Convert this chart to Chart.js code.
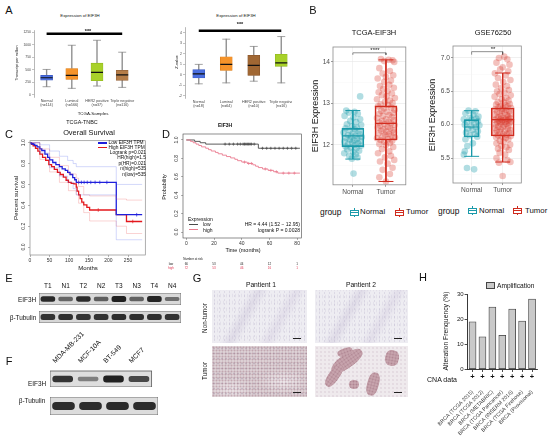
<!DOCTYPE html>
<html><head><meta charset="utf-8">
<script src="https://cdn.jsdelivr.net/npm/chart.js@4/dist/chart.umd.min.js"></script>
<style>
html,body{margin:0;padding:0;background:#fff;}
#fig{position:relative;width:550px;height:440px;overflow:hidden;font-family:"Liberation Sans",Arial,Helvetica,sans-serif;color:#111;}
.t{position:absolute;white-space:nowrap;line-height:1;}
</style></head><body><div id="fig"></div>
<script>
// ================= DATA =================
// Panel A (UALCAN box plots)
const A_groups = ['Normal','Luminal','HER2 positive','Triple negative'];
const A1_n   = ['(n=114)','(n=566)','(n=37)','(n=116)'];
const A1_lo  = [164,132,178,151];
const A1_q1  = [296,309,283,290];
const A1_med = [342,388,447,401];
const A1_q3  = [388,526,632,487];
const A1_hi  = [507,987,1086,849];
const A1_sig = [1215,null,null,1215];
const A1_yTicks = [0,250,500,750,1000,1250];
const A2_n   = ['(n=18)','(n=64)','(n=10)','(n=16)'];
const A2_lo  = [-0.85,-0.76,-0.6,-0.76];
const A2_q1  = [-0.3,0.42,-0.06,0.81];
const A2_med = [0.09,1.0,0.9,1.14];
const A2_q3  = [0.5,1.72,1.87,1.96];
const A2_hi  = [1.0,3.4,2.71,3.65];
const A2_sig = [4.2,null,null,4.2];
const A2_yTicks = [-2,-1,0,1,2,3,4];

// Panel B (jittered points: [offset from group, value]; box stats [lo,q1,med,q3,hi])
const B_cats = ['Normal','Tumor'];
const B1_boxN = [11.66,11.96,12.22,12.40,12.83];
const B1_boxT = [11.12,12.12,12.52,12.94,14.05];
const B1_bracket = [14.17,14.22];
const B1_yMajor = [12,13,14];
const B1_yMinor = [11.5,12.5,13.5];
const B1_ptsN = [[-0.20,12.83],[0.05,12.80],[-0.12,12.78],[0.15,12.75],[-0.25,12.70],[0.02,12.66],[0.22,12.62],[-0.08,12.58],[0.10,12.55],[-0.18,12.50],[0.25,12.48],[-0.02,12.45],[0.12,12.42],[-0.22,12.40],[0.06,12.38],[-0.10,12.35],[0.18,12.33],[-0.28,12.30],[0.00,12.28],[0.20,12.26],[-0.15,12.24],[0.08,12.22],[-0.05,12.20],[0.27,12.19],[-0.20,12.17],[0.13,12.15],[-0.09,12.13],[0.03,12.11],[0.22,12.10],[-0.25,12.08],[-0.02,12.06],[0.16,12.04],[-0.14,12.02],[0.07,12.00],[0.25,11.98],[-0.22,11.96],[-0.06,11.94],[0.11,11.92],[-0.17,11.89],[0.19,11.86],[0.01,11.83],[-0.26,11.80],[0.09,11.77],[-0.11,11.74],[0.14,11.70],[-0.03,11.67],[0.22,13.17],[0.02,11.31]];
const B1_ptsT = [[-0.15,14.07],[0.08,14.05],[0.20,14.04],[-0.05,14.02],[0.25,14.00],[-0.20,13.85],[0.12,13.78],[-0.10,13.72],[0.22,13.68],[0.00,13.64],[-0.25,13.60],[0.15,13.55],[-0.05,13.52],[0.10,13.45],[-0.18,13.42],[0.24,13.38],[-0.08,13.35],[0.05,13.30],[-0.22,13.27],[0.18,13.24],[-0.12,13.20],[0.02,13.17],[0.27,13.13],[-0.27,13.10],[0.12,13.07],[-0.03,13.04],[0.20,13.01],[-0.16,12.98],[0.06,12.96],[-0.24,12.93],[0.16,12.90],[-0.06,12.88],[0.26,12.85],[-0.14,12.82],[0.03,12.80],[0.22,12.77],[-0.20,12.75],[0.10,12.72],[-0.09,12.70],[0.18,12.67],[-0.27,12.65],[0.00,12.62],[0.24,12.60],[-0.12,12.58],[0.08,12.56],[-0.20,12.54],[0.15,12.52],[-0.04,12.50],[0.26,12.48],[-0.17,12.46],[0.05,12.44],[-0.25,12.42],[0.13,12.40],[-0.07,12.38],[0.21,12.36],[-0.14,12.34],[0.02,12.32],[0.24,12.30],[-0.22,12.28],[0.09,12.26],[-0.02,12.24],[0.17,12.22],[-0.10,12.20],[0.27,12.18],[-0.27,12.16],[0.06,12.14],[-0.16,12.12],[0.19,12.10],[-0.05,12.08],[0.12,12.05],[-0.20,12.02],[0.00,12.00],[0.22,11.95],[-0.12,11.90],[0.10,11.85],[-0.24,11.80],[0.15,11.74],[-0.03,11.70],[0.25,11.64],[-0.18,11.60],[0.05,11.55],[0.20,11.45],[-0.10,11.40],[0.12,11.30],[-0.20,11.22],[0.00,11.12]];
const B2_boxN = [5.525,5.815,5.965,6.075,6.21];
const B2_boxT = [5.44,5.83,6.075,6.25,6.775];
const B2_bracket = [7.05,7.095];
const B2_yMajor = [5.5,6.0,6.5,7.0];
const B2_yMinor = [5.25,5.75,6.25,6.75];
const B2_ptsN = [[-0.10,6.21],[0.12,6.20],[-0.20,6.17],[0.05,6.15],[0.22,6.12],[-0.05,6.10],[0.15,6.09],[-0.25,6.08],[0.00,6.07],[0.20,6.05],[-0.15,6.04],[0.08,6.02],[-0.22,6.00],[0.25,5.99],[-0.02,5.98],[0.14,5.96],[-0.12,5.94],[0.03,5.92],[0.20,5.90],[-0.18,5.88],[0.10,5.86],[-0.06,5.84],[0.18,5.82],[-0.20,5.78],[0.04,5.72],[-0.14,5.68],[-0.22,5.60],[-0.25,5.55],[-0.15,5.35],[0.08,5.33]];
const B2_ptsT = [[0.05,7.02],[-0.12,7.00],[0.15,6.98],[-0.20,6.93],[0.22,6.90],[0.00,6.86],[-0.08,6.83],[0.18,6.80],[-0.25,6.77],[0.10,6.74],[-0.15,6.70],[0.25,6.67],[0.02,6.64],[-0.22,6.60],[0.14,6.58],[-0.05,6.55],[0.20,6.52],[-0.18,6.50],[0.06,6.48],[-0.10,6.46],[0.26,6.44],[-0.26,6.42],[0.12,6.40],[-0.03,6.38],[0.19,6.36],[-0.16,6.34],[0.04,6.33],[0.23,6.31],[-0.21,6.30],[0.09,6.29],[-0.07,6.28],[0.16,6.27],[-0.13,6.26],[0.27,6.25],[0.00,6.24],[-0.24,6.23],[0.11,6.22],[-0.02,6.21],[0.21,6.20],[-0.18,6.19],[0.06,6.18],[-0.09,6.17],[0.25,6.16],[-0.27,6.15],[0.14,6.14],[-0.05,6.13],[0.18,6.12],[-0.14,6.11],[0.03,6.10],[0.24,6.095],[-0.20,6.09],[0.10,6.085],[-0.06,6.08],[0.20,6.075],[-0.25,6.07],[0.00,6.065],[0.15,6.06],[-0.12,6.055],[0.27,6.05],[-0.03,6.045],[0.08,6.04],[-0.17,6.035],[0.22,6.03],[-0.08,6.02],[0.12,6.01],[-0.22,6.00],[0.04,5.99],[0.19,5.98],[-0.14,5.97],[0.00,5.96],[-0.26,5.95],[0.17,5.94],[-0.06,5.93],[0.25,5.92],[-0.19,5.91],[0.07,5.90],[-0.10,5.89],[0.21,5.88],[-0.24,5.87],[0.02,5.86],[0.13,5.85],[-0.15,5.84],[0.26,5.83],[-0.02,5.82],[-0.21,5.81],[0.10,5.80],[0.18,5.78],[-0.09,5.76],[0.03,5.74],[-0.20,5.72],[0.24,5.70],[-0.04,5.68],[0.12,5.66],[-0.15,5.64],[0.20,5.62],[-0.10,5.58],[0.08,5.55],[-0.20,5.50],[0.15,5.47],[0.25,5.44],[-0.12,5.43],[0.00,5.23]];

// Panel C (GEPIA KM, months vs survival)
const C_xTicks = [0,50,100,150,200,250];
const KM_yTicks = [0,0.2,0.4,0.6,0.8,1.0];
const C_low  = [[0,1],[3,0.99],[8,0.985],[12,0.975],[18,0.96],[25,0.94],[30,0.925],[38,0.89],[45,0.86],[50,0.835],[58,0.81],[66,0.79],[75,0.77],[82,0.75],[90,0.735],[96,0.715],[102,0.695],[109,0.665],[114,0.645],[118,0.62],[220,0.31],[286,0.31]];
const C_high = [[0,1],[4,0.985],[8,0.97],[14,0.945],[20,0.92],[25,0.89],[32,0.86],[40,0.83],[48,0.79],[55,0.77],[62,0.745],[70,0.715],[77,0.695],[85,0.67],[92,0.64],[98,0.62],[105,0.61],[112,0.605],[118,0.575],[120,0.535],[124,0.5],[128,0.465],[132,0.43],[137,0.405],[145,0.38],[152,0.355],[220,0.31],[246,0.245],[286,0.245]];
const C_lowUp  = [[0,1],[25,0.98],[50,0.92],[75,0.87],[96,0.83],[110,0.8],[118,0.77],[220,0.6],[286,0.6]];
const C_lowDn  = [[0,1],[25,0.9],[50,0.76],[75,0.68],[96,0.62],[110,0.56],[118,0.5],[220,0.07],[286,0.07]];
const C_highUp = [[0,1],[25,0.94],[50,0.86],[75,0.78],[98,0.7],[118,0.66],[124,0.58],[137,0.5],[152,0.49],[220,0.46],[246,0.45],[286,0.45]];
const C_highDn = [[0,1],[25,0.84],[50,0.72],[75,0.62],[98,0.54],[118,0.5],[124,0.42],[137,0.33],[152,0.25],[220,0.2],[246,0.13],[286,0.13]];
const C_lowCens  = [[124,0.62],[131,0.62],[138,0.62],[146,0.62],[155,0.62],[166,0.62],[178,0.62],[196,0.62],[272,0.31]];
const C_highCens = [[174,0.355],[262,0.245]];

// Panel D (KM, months vs probability)
const D_xTicks = [0,20,40,60,80];
const D_low  = [[0,1],[6,0.985],[10,0.97],[14,0.955],[52,0.91],[82,0.91]];
const D_high = [[0,1],[3,0.985],[5,0.97],[7,0.955],[9,0.94],[11,0.925],[14,0.91],[16,0.895],[18,0.88],[21,0.865],[23,0.85],[26,0.835],[29,0.82],[32,0.805],[35,0.79],[37,0.775],[40,0.76],[44,0.745],[48,0.73],[50,0.715],[52,0.7],[55,0.685],[59,0.67],[63,0.655],[66,0.64],[82,0.64]];
const D_lowCens  = [[28,0.955],[31,0.955],[34,0.955],[37,0.955],[39,0.955],[41,0.955],[42,0.955],[43,0.955],[44,0.955],[45,0.955],[46,0.955],[47,0.955],[49,0.955],[55,0.91],[58,0.91],[61,0.91],[64,0.91],[67,0.91],[70,0.91],[73,0.91],[76,0.91],[79,0.91]];
const D_highCens = [[42,0.76],[45,0.745],[47,0.745],[57,0.685],[61,0.67],[65,0.655],[70,0.64],[74,0.64],[78,0.64]];
const D_riskLow  = [66,53,44,12,1];
const D_riskHigh = [72,53,46,16,1];

// Panels E / F (band intensities, 0..1)
const E_lanes = ['T1','N1','T2','N2','T3','N3','T4','N4'];
const E_eif3h = [0.92,0.45,0.9,0.5,1.0,0.48,0.95,0.38];
const E_tub   = [0.85,0.88,0.85,0.85,0.9,0.88,0.88,0.85];
const F_lines = ['MDA-MB-231','MCF-10A','BT-549','MCF7'];
const F_eif3h = [0.85,0.28,1.0,0.7];
const F_tub   = [0.9,0.9,0.92,0.9];

// Panel H (cBioPortal amplification frequency, %)
const H_studies = ['BRCA (TCGA 2015)','BRCA (TCGA 2012)','BRCA (METABRIC)','BRCA (TCGA Pancancer)','BRCA (INSERM 2016)','BRCA (TCGA Firehose)','BRCA (Provisional)'];
const H_amp = [19,13,25,13.6,24.2,19.3,28.2];
const H_cna = ['+','+','+','+','+','+','+'];
const H_yTicks = [0,10,20,30];

// ================= HELPERS =================
const fig = document.getElementById('fig');
Chart.defaults.font.family = '"Liberation Sans", Arial, Helvetica, sans-serif';
Chart.defaults.color = '#333';
Chart.defaults.animation = false;
Chart.defaults.responsive = false;
Chart.defaults.maintainAspectRatio = false;
Chart.defaults.events = [];
Chart.defaults.plugins.legend.display = false;
Chart.defaults.plugins.tooltip.enabled = false;
Chart.register({
  id:'frame',
  beforeDatasetsDraw(ch,a,o){ if(o && o.fill){ const r=ch.chartArea,g=ch.ctx; g.save(); g.fillStyle=o.fill; g.fillRect(r.left,r.top,r.right-r.left,r.bottom-r.top); g.restore(); } },
  afterDatasetsDraw(ch,a,o){ if(o && o.color){ const r=ch.chartArea,g=ch.ctx; g.save(); g.strokeStyle=o.color; g.lineWidth=o.width||1; g.strokeRect(r.left,r.top,r.right-r.left,r.bottom-r.top); g.restore(); } }
});
const setTicks = arr => s => { s.ticks = arr.map(v => ({value:v})); };
function mk(parent,x,y,w,h,cfg){
  const c=document.createElement('canvas'); c.width=w; c.height=h;
  c.style.cssText=`position:absolute;left:${x}px;top:${y}px;width:${w}px;height:${h}px;`;
  parent.appendChild(c); return new Chart(c.getContext('2d'),cfg);
}
function txt(s,x,y,size,o={}){
  const d=document.createElement('div'); d.className='t'; d.textContent=s;
  d.style.fontSize=size+'px'; d.style.left=x+'px'; d.style.top=y+'px';
  if(o.color) d.style.color=o.color; if(o.bold) d.style.fontWeight='bold';
  const tx=o.a==='l'?'0':o.a==='r'?'-100%':'-50%';
  d.style.transform=`translate(${tx},-50%)`+(o.rot?` rotate(${o.rot}deg)`:'');
  fig.appendChild(d); return d;
}
function box(parent,x,y,w,h,css){ const d=document.createElement('div'); d.style.cssText=`position:absolute;left:${x}px;top:${y}px;width:${w}px;height:${h}px;`+css; parent.appendChild(d); return d; }
function hline(x,y,w,c,lw){ box(fig,x,y-(lw||1)/2,w,lw||1,`background:${c};`); }

// ================= PANEL A =================
function uaChart(parent,x,y,w,h,o){
  return mk(parent,x,y,w,h,{
    type:'bar',
    data:{labels:A_groups.map((g,i)=>[g,o.n[i]]), datasets:[
      {type:'line',data:o.sig,spanGaps:true,borderColor:'#000',borderWidth:2.4,pointRadius:0,order:0},
      {type:'line',data:o.med,showLine:false,pointStyle:'line',pointRadius:6,pointBorderColor:'#111',pointBorderWidth:1.2,order:1},
      {type:'bar',data:o.q1.map((v,i)=>[v,o.q3[i]]),backgroundColor:o.colors,borderColor:o.edges,borderWidth:0.6,borderSkipped:false,barThickness:12,grouped:false,order:2},
      {type:'bar',data:o.q3.map((v,i)=>[v,o.hi[i]]),backgroundColor:'#8d8d8d',barThickness:0.7,grouped:false,order:3},
      {type:'bar',data:o.lo.map((v,i)=>[v,o.q1[i]]),backgroundColor:'#8d8d8d',barThickness:0.7,grouped:false,order:3},
      {type:'line',data:o.hi,showLine:false,pointStyle:'line',pointRadius:4,pointBorderColor:'#8d8d8d',pointBorderWidth:0.8,order:3},
      {type:'line',data:o.lo,showLine:false,pointStyle:'line',pointRadius:4,pointBorderColor:'#8d8d8d',pointBorderWidth:0.8,order:3}
    ]},
    options:{
      layout:{padding:{top:o.padTop,right:o.padRight,left:0,bottom:0}},
      scales:{
        x:{grid:{display:false,drawTicks:false},border:{display:false},ticks:{font:{size:3.7},color:'#444',padding:1.5,autoSkip:false,maxRotation:0,minRotation:0},afterFit:s=>{s.height=o.xH;}},
        y:{min:o.yMin,max:o.yMax,beginAtZero:false,afterBuildTicks:setTicks(o.yTicks),grid:{display:true,drawOnChartArea:false,tickLength:2,color:'#888',lineWidth:0.5},border:{display:true,color:'#888',width:0.6},ticks:{font:{size:3.4},color:'#444',padding:1,callback:v=>String(v)},afterFit:s=>{s.width=o.yW;}}
      }
    }
  });
}
uaChart(fig,8,20,134,95,{n:A1_n,lo:A1_lo,q1:A1_q1,med:A1_med,q3:A1_q3,hi:A1_hi,sig:A1_sig,yTicks:A1_yTicks,
  colors:['#4a6ee0','#f5932a','#a8d12a','#b57d48'],edges:['#3a58c0','#d97c18','#8fb51c','#97643a'],
  yMin:-40,yMax:1290,yW:26,xH:18,padTop:10,padRight:6});
const a2wrap=box(fig,150,20,142,95,'overflow:hidden;');
uaChart(a2wrap,0,0,160,95,{n:A2_n,lo:A2_lo,q1:A2_q1,med:A2_med,q3:A2_q3,hi:A2_hi,sig:A2_sig,yTicks:A2_yTicks,
  colors:['#4a6ee0','#f5932a','#a06733','#a8d12a'],edges:['#3a58c0','#d97c18','#84522a','#8fb51c'],
  yMin:-2.2,yMax:4.54,yW:35,xH:17,padTop:3,padRight:15});
txt('A',9,10,11);
txt('Expression of EIF3H',80,15.5,4.3);
txt('Expression of EIF3H',236,15.5,4.3);
txt('***',88,31.5,5.5,{bold:true});
txt('***',240,24.5,5.5,{bold:true});
txt('Transcript per million',18,63,3.8,{rot:-90});
txt('Z-value',177,62,4,{rot:-90});
txt('TCGA-Samples',93,114,4.4);

// ================= PANEL B =================
const TEAL='#1b9aaa', RED='#cf2b1e';
function ggChart(x,y,w,h,o){
  const yt=[...o.yMajor,...o.yMinor].sort((a,b)=>a-b);
  const isMaj=v=>o.yMajor.some(m=>Math.abs(m-v)<1e-9);
  const N=o.N, T=o.T;
  return mk(fig,x,y,w,h,{
    type:'scatter',
    data:{datasets:[
      {data:o.ptsN.map(p=>({x:1+p[0],y:p[1]})),backgroundColor:'rgba(27,154,170,0.34)',pointRadius:3.3,pointBorderWidth:0,order:0},
      {data:o.ptsT.map(p=>({x:2+p[0],y:p[1]})),backgroundColor:'rgba(214,50,38,0.3)',pointRadius:3.3,pointBorderWidth:0,order:0},
      {type:'bar',data:[{x:1,y:[N[1],N[3]]}],backgroundColor:'rgba(255,255,255,0)',borderColor:TEAL,borderWidth:1,borderSkipped:false,barThickness:o.bwN,grouped:false,order:1},
      {type:'bar',data:[{x:2,y:[T[1],T[3]]}],backgroundColor:'rgba(255,255,255,0)',borderColor:RED,borderWidth:1,borderSkipped:false,barThickness:o.bwT,grouped:false,order:1},
      {data:[{x:1,y:N[2]},{x:2,y:T[2]}],pointStyle:'line',pointRadius:[o.bwN/2,o.bwT/2],pointBorderColor:[TEAL,RED],pointBorderWidth:1.2,order:1},
      {type:'line',data:[{x:1,y:N[4]},{x:1,y:N[3]},{x:1,y:null},{x:1,y:N[1]},{x:1,y:N[0]}],borderColor:TEAL,borderWidth:1,pointRadius:0,order:1},
      {type:'line',data:[{x:2,y:T[4]},{x:2,y:T[3]},{x:2,y:null},{x:2,y:T[1]},{x:2,y:T[0]}],borderColor:RED,borderWidth:1,pointRadius:0,order:1},
      {data:[{x:1,y:N[4]},{x:1,y:N[0]},{x:2,y:T[4]},{x:2,y:T[0]}],pointStyle:'line',pointRadius:[7.5,7.5,7.5,7.5],pointBorderColor:[TEAL,TEAL,RED,RED],pointBorderWidth:1,order:1},
      {type:'line',data:[{x:1,y:o.br[0]},{x:1,y:o.br[1]},{x:2,y:o.br[1]},{x:2,y:o.br[0]}],borderColor:'#444',borderWidth:0.6,pointRadius:0,order:1}
    ]},
    options:{
      layout:{padding:{top:o.padTop,right:o.padRight,left:0,bottom:0}},
      plugins:{frame:{color:'#8c8c8c',width:0.8}},
      scales:{
        x:{type:'linear',offset:false,min:0.4,max:2.6,afterBuildTicks:setTicks([1,2]),
           ticks:{callback:v=>B_cats[Math.round(v)-1],font:{size:6.6},color:'#4d4d4d',padding:1},
           grid:{offset:false,color:'#ebebeb',lineWidth:0.6,tickLength:2,tickColor:'#555'},border:{display:false},afterFit:s=>{s.height=o.xH;}},
        y:{type:'linear',beginAtZero:false,min:o.yMin,max:o.yMax,afterBuildTicks:setTicks(yt),
           ticks:{callback:v=>isMaj(v)?o.fmt(v):'',font:{size:6.6},color:'#4d4d4d',padding:1},
           grid:{color:c=>isMaj(c.tick.value)?'#e6e6e6':'#f3f3f3',lineWidth:c=>isMaj(c.tick.value)?0.6:0.35,tickLength:2,tickColor:c=>isMaj(c.tick.value)?'#555':'rgba(0,0,0,0)'},
           border:{display:false},afterFit:s=>{s.width=o.yW;}}
      }
    }
  });
}
ggChart(298,25,120,172,{ptsN:B1_ptsN,ptsT:B1_ptsT,N:B1_boxN,T:B1_boxT,br:B1_bracket,yMajor:B1_yMajor,yMinor:B1_yMinor,
  yMin:11.04,yMax:14.36,yW:35,xH:12,padTop:22,padRight:2,bwN:22,bwT:22,fmt:v=>String(v)});
ggChart(438,25,96,172,{ptsN:B2_ptsN,ptsT:B2_ptsT,N:B2_boxN,T:B2_boxT,br:B2_bracket,yMajor:B2_yMajor,yMinor:B2_yMinor,
  yMin:5.125,yMax:7.18,yW:15,xH:14,padTop:21,padRight:2,bwN:15,bwT:23,fmt:v=>v.toFixed(1)});
function boxKey(cx,cy,color){
  const g=box(fig,cx-4.5,cy-4.5,9,9,'');
  g.innerHTML=`<div style="position:absolute;left:4px;top:0;width:1px;height:9px;background:${color}"></div>`+
    `<div style="position:absolute;left:0;top:2px;width:7px;height:4px;border:1px solid ${color};background:#fff"></div>`+
    `<div style="position:absolute;left:1px;top:4px;width:7px;height:1px;background:${color}"></div>`;
}
txt('B',313,10,11);
txt('TCGA-EIF3H',374,33,7.5);
txt('GSE76250',493,33,7.5);
txt('EIF3H Expression',315,116,9,{rot:-90});
txt('EIF3H Expression',432,115,9,{rot:-90});
txt('****',375,50,6);
txt('**',493,49,6);
txt('group',320,212,8.4,{a:'l'}); boxKey(354,212,TEAL); txt('Normal',360,212,7.8,{a:'l'}); boxKey(399,212,RED); txt('Tumor',406,212,7.8,{a:'l'});
txt('group',438,210.5,8.4,{a:'l'}); boxKey(472.5,210.5,TEAL); txt('Normal',479,210.5,7.8,{a:'l'}); boxKey(517.5,210.5,RED); txt('Tumor',525,210.5,7.8,{a:'l'});

// ================= PANEL C & D =================
const step=(arr,color,w)=>({type:'line',data:arr.map(p=>({x:p[0],y:p[1]})),stepped:'before',borderColor:color,borderWidth:w,pointRadius:0,fill:false});
const marks=(arr,color,style,rot,r)=>({type:'scatter',data:arr.map(p=>({x:p[0],y:p[1]})),pointStyle:style,pointRotation:rot,pointRadius:r,pointBorderColor:color,pointBackgroundColor:color,pointBorderWidth:0.7});
function kmScales(o){
  return {
    x:{type:'linear',min:o.xMin,max:o.xMax,afterBuildTicks:setTicks(o.xTicks),ticks:{font:{size:5},color:'#333',padding:0.5,callback:v=>String(v)},
       grid:{drawOnChartArea:false,tickLength:2,color:'#666',lineWidth:0.5},border:{display:false},afterFit:s=>{s.height=o.xH;}},
    y:{type:'linear',min:o.yMin,max:o.yMax,afterBuildTicks:setTicks(KM_yTicks),ticks:{font:{size:5},color:'#333',padding:1,minRotation:90,maxRotation:90,crossAlign:'center',callback:v=>v.toFixed(1)},
       grid:{drawOnChartArea:false,tickLength:2,color:'#666',lineWidth:0.5},border:{display:false},afterFit:s=>{s.width=o.yW;}}
  };
}
mk(fig,8,136,142,138,{
  type:'scatter',
  data:{datasets:[
    step(C_lowUp,'rgba(70,90,235,0.3)',0.8), step(C_lowDn,'rgba(70,90,235,0.3)',0.8),
    step(C_highUp,'rgba(235,70,70,0.3)',0.8), step(C_highDn,'rgba(235,70,70,0.3)',0.8),
    step(C_low,'#1f1fdc',1.3), step(C_high,'#e3171c',1.3),
    marks(C_lowCens,'#1f1fdc','line',90,1.8), marks(C_highCens,'#e3171c','line',90,1.8)
  ]},
  options:{layout:{padding:{top:4,right:3,left:0,bottom:0}},plugins:{frame:{color:'#8a8a8a',width:0.7}},
    scales:kmScales({xMin:0,xMax:294,xTicks:C_xTicks,xH:19,yMin:-0.076,yMax:1.019,yW:22})}
});
txt('C',9,134,11);
txt('TCGA-TNBC',82,123,5.4);
txt('Overall Survival',89,132.5,7.4);
hline(98,143,9,'#1f1fdc',1.2); txt('Low EIF3H TPM',108.5,143,4.8,{a:'l'});
hline(98,147.5,9,'#e3171c',1.2); txt('High EIF3H TPM',108.5,147.5,4.8,{a:'l'});
txt('Logrank p=0.021',146,152.5,4.8,{a:'r'});
txt('HR(high)=1.5',146,158,4.8,{a:'r'});
txt('p(HR)=0.021',146,163.5,4.8,{a:'r'});
txt('n(high)=535',146,169,4.8,{a:'r'});
txt('n(low)=535',146,174.5,4.8,{a:'r'});
txt('Months',88,268,6);
txt('Percent survival',16,198,6.2,{rot:-90});

const chD=mk(fig,150,128,156,120,{
  type:'scatter',
  data:{datasets:[
    step(D_high,'#ea7b8e',0.9), step(D_low,'#4a4a4a',0.9),
    marks(D_highCens,'#ea7b8e','cross',0,1.5), marks(D_lowCens,'#4a4a4a','cross',0,1.5)
  ]},
  options:{layout:{padding:{top:6,right:2,left:0,bottom:0}},plugins:{frame:{color:'#444',width:0.6}},
    scales:kmScales({xMin:-2.4,xMax:83,xTicks:D_xTicks,xH:10,yMin:-0.065,yMax:1.065,yW:33})}
});
txt('D',166,134,11);
txt('EIF3H',225,124.5,5,{bold:true});
txt('Probability',165,187,5.5,{rot:-90});
txt('Time (months)',243,251,5.5);
txt('Expression',188,218.5,5,{a:'l'});
hline(189,224,9,'#4a4a4a',0.8); txt('low',203,224,5,{a:'l'});
hline(189,229.5,9,'#ea7b8e',0.8); txt('high',203,229.5,5,{a:'l'});
txt('HR = 4.44 (1.52 \u2212 12.95)',300,224,5,{a:'r'});
txt('logrank P = 0.0028',300,230,5,{a:'r'});
txt('Number at risk',193,258.5,3);
txt('low',171,263.5,3,{color:'#222'});
txt('high',171,267.5,3,{color:'#e0344f'});
D_xTicks.forEach((m,i)=>{
  const px=150+chD.scales.x.getPixelForValue(m);
  txt(String(D_riskLow[i]),px,263.5,3,{color:'#222'});
  txt(String(D_riskHigh[i]),px,267.5,3,{color:'#e0344f'});
});

// ================= PANEL E & F (blots) =================
function blot(x,y,w,h,o){
  return mk(fig,x,y,w,h,{
    type:'bar',
    data:{labels:o.lanes,datasets:[{data:o.vals.map(v=>[0.5-(o.b0+o.b1*v),0.5+(o.b0+o.b1*v)]),
      backgroundColor:o.vals.map(v=>`rgba(22,22,22,${(0.3+0.65*v).toFixed(2)})`),
      barThickness:o.bw,borderRadius:o.br,borderSkipped:false,grouped:false}]},
    options:{layout:{padding:0},plugins:{frame:{fill:o.bg,color:'#5a5a5a',width:0.8}},
      scales:{x:{display:!!o.axisH,position:'top',grid:{display:false,drawTicks:false},border:{display:false},
          ticks:{font:{size:o.fs||6.5},color:'#111',padding:o.tp||2,autoSkip:false,minRotation:o.rot||0,maxRotation:o.rot||0,labelOffset:o.lo||0},
          afterFit:s=>{s.height=o.axisH||0;}},
        y:{display:false,min:0,max:1,beginAtZero:false}}}
  });
}
const chE=blot(39,293,142,12,{lanes:E_lanes,vals:E_eif3h,b0:0.1,b1:0.12,bw:14,br:2.5,bg:'#d9d9d9'});
blot(39,311,142,12,{lanes:E_lanes,vals:E_tub,b0:0.1,b1:0.14,bw:14,br:2.5,bg:'#d6d6d6'});
E_lanes.forEach((l,i)=>txt(l,39+chE.scales.x.getPixelForValue(i),286,6.5));
blot(50,320,108,67,{lanes:F_lines,vals:F_eif3h,b0:0.08,b1:0.12,bw:20,br:4,bg:'#dedede',axisH:51,fs:6.8,tp:6,rot:45,lo:-3});
blot(50,397,108,18,{lanes:F_lines,vals:F_tub,b0:0.1,b1:0.12,bw:22,br:4,bg:'#dcdcdc'});
txt('E',9,278,11);
txt('EIF3H',27,299.5,6.4);
txt('\u03B2-Tubulin',23,317.5,6.4);
txt('F',9,361,11);
txt('EIF3H',37,384,6.4);
txt('\u03B2-Tubulin',32,401,6.4);

// ================= PANEL G (IHC images) =================
const normalCss='background-color:#eeedf2;background-image:radial-gradient(rgba(150,140,175,0.22) 0.6px, transparent 1.1px),radial-gradient(rgba(175,165,195,0.18) 0.5px, transparent 1px),linear-gradient(120deg,rgba(255,255,255,0) 30%,rgba(205,198,218,0.45) 38%,rgba(255,255,255,0) 46%,rgba(255,255,255,0) 60%,rgba(210,202,222,0.4) 68%,rgba(255,255,255,0) 76%);background-size:5px 4px,3px 7px,100% 100%;background-position:0 0,1px 2px,0 0;';
const tumor1Css='background-color:#dcd0d4;background-image:radial-gradient(rgba(150,100,115,0.38) 0.7px, transparent 1.2px),radial-gradient(rgba(125,105,135,0.28) 0.6px, transparent 1.1px),radial-gradient(ellipse at 75% 70%,rgba(248,244,247,0.6),rgba(248,244,247,0) 25%),radial-gradient(ellipse at 20% 85%,rgba(248,244,247,0.5),rgba(248,244,247,0) 20%);background-size:3px 3px,4px 5px,100% 100%,100% 100%;';
const tumor2Css='background-color:#efeaed;background-image:radial-gradient(rgba(170,145,165,0.22) 0.6px, transparent 1px);background-size:4px 4px;overflow:hidden;';
const glandCss='background-color:#c7a4ad;background-image:radial-gradient(rgba(130,75,95,0.35) 0.7px, transparent 1.2px);background-size:3px 3px;border-radius:45%;';
const p1n=box(fig,212,290,95,53,normalCss);
const p2n=box(fig,315,290,93,53,normalCss+'background-position:2px 1px,0 3px,0 0;');
const p1t=box(fig,212,346,95,51,tumor1Css);
const p2t=box(fig,315,346,93,51,tumor2Css);
[[14,8,36,14,-35],[6,24,26,11,-55],[70,4,14,16,10],[52,26,12,24,15],[34,34,10,9,0],[22,2,16,8,-20]].forEach(g=>box(p2t,g[0],g[1],g[2],g[3],glandCss+`transform:rotate(${g[4]}deg);`));
[p1n,p2n,p1t,p2t].forEach(p=>box(p,p.offsetWidth-14,p.offsetHeight-5,8,1.2,'background:#222;'));
txt('G',197,278,11);
txt('Pantient 1',261,285,6.7);
txt('Pantient 2',361,285,6.7);
txt('Non-tumor',205,318,6.3,{rot:-90});
txt('Tumor',205,371,6.3,{rot:-90});

// ================= PANEL H =================
mk(fig,428,290,118,148,{
  type:'bar',
  data:{labels:H_studies,datasets:[{data:H_amp,backgroundColor:'#c9c9c9',borderColor:'#3c3c3c',borderWidth:0.8,borderSkipped:false,barThickness:7}]},
  options:{layout:{padding:{top:4,right:9,left:0,bottom:0}},
    scales:{
      x:{type:'category',position:'bottom',weight:0,grid:{display:true,drawOnChartArea:false,offset:false,tickLength:3,color:'#222',lineWidth:0.8},border:{display:true,color:'#222',width:0.9},
         ticks:{callback:(v,i)=>H_cna[i],font:{size:7.5,weight:'bold'},color:'#111',padding:0,autoSkip:false,maxRotation:0,minRotation:0},afterFit:s=>{s.height=12;}},
      x2:{type:'category',position:'bottom',weight:1,grid:{display:false,drawTicks:false},border:{display:false},
         ticks:{font:{size:5.3},color:'#333',minRotation:45,maxRotation:45,padding:8,autoSkip:false},afterFit:s=>{s.height=57;}},
      y:{min:0,max:30,afterBuildTicks:setTicks(H_yTicks),grid:{display:true,drawOnChartArea:false,tickLength:3,color:'#222',lineWidth:0.8},border:{display:true,color:'#222',width:0.9},
         ticks:{font:{size:6},color:'#222',padding:1,callback:v=>String(v)},afterFit:s=>{s.width=35;}}
    }}
});
txt('H',423,277,11);
box(fig,486,282,7,5,'background:#c9c9c9;border:0.8px solid #444;');
txt('Amplification',497,285.5,6.6,{a:'l'});
txt('Alteration Frenquency (%)',446,331,6.8,{rot:-90});
txt('CNA data',442,379,7);
</script></body></html>
